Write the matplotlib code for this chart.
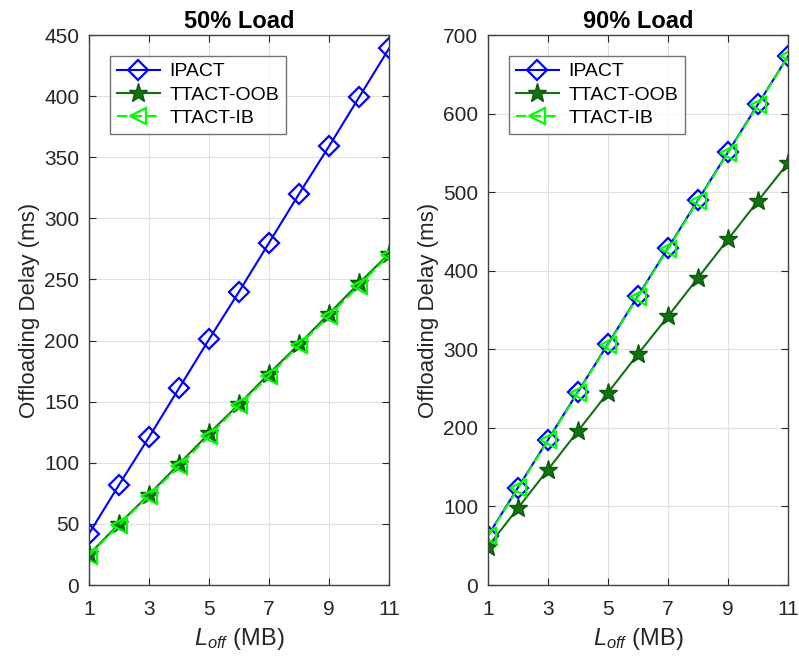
import numpy as np
import matplotlib
matplotlib.use('Agg')
import matplotlib.pyplot as plt

plt.rcParams['font.family'] = ['Liberation Sans', 'DejaVu Sans']
plt.rcParams['mathtext.fontset'] = 'custom'
plt.rcParams['mathtext.rm'] = 'Liberation Sans'
plt.rcParams['mathtext.it'] = 'Liberation Sans:italic'

# Data
L_off = [1, 2, 3, 4, 5, 6, 7, 8, 9, 10, 11]

ipact_50 = [42, 82, 121, 161, 201, 240, 280, 320, 359, 399, 439]
oob_50 = [25, 50, 74, 99, 124, 148, 173, 197, 222, 247, 271]
ib_50 = [24, 49, 73, 97, 122, 147, 171, 196, 220, 245, 270]

ipact_90 = [63, 124, 185, 246, 307, 368, 429, 490, 551, 612, 673]
oob_90 = [49, 98, 147, 196, 245, 294, 342, 391, 440, 489, 537]
ib_90 = [62, 123, 184, 245, 306, 367, 428, 489, 550, 611, 673]

titles = ['50% Load', '90% Load']
ylims = [450, 700]
ysteps = [50, 100]

fig = plt.figure(figsize=(7.99, 6.63), dpi=100)
ax1 = fig.add_axes([0.1114, 0.1176, 0.3755, 0.8296])
ax2 = fig.add_axes([0.6108, 0.1176, 0.3755, 0.8296])

sets = [(ipact_50, oob_50, ib_50), (ipact_90, oob_90, ib_90)]

for ax, (ip, oob, ib), title, ymax, ystep in zip([ax1, ax2], sets, titles, ylims, ysteps):
    ax.plot(L_off, ip, color='#0000ff', lw=1.5, marker='D', ms=10,
            mfc='none', mew=1.6, label='IPACT')
    ax.plot(L_off, oob, color='#127212', lw=1.5, marker='*', ms=14,
            mfc='#127212', mec='#0a5a0a', label='TTACT-OOB')
    ax.plot(L_off, ib, color='#00ff00', lw=1.5, ls=(0, (5, 2)), marker='<', ms=11,
            mfc='none', mew=1.6, label='TTACT-IB')
    ax.set_xlim(1, 11)
    ax.set_ylim(0, ymax)
    ax.set_xticks(np.arange(1, 12, 2))
    ax.set_yticks(np.arange(0, ymax + 1, ystep))
    ax.grid(True, color='#e0e0e0', lw=0.8)
    ax.set_axisbelow(True)
    for s in ax.spines.values():
        s.set_color('#404040')
        s.set_linewidth(1.0)
    ax.tick_params(direction='in', top=True, right=True, labelsize=15,
                   colors='#262626', length=5, pad=7)
    ax.tick_params(axis='x', pad=11)
    ax.set_title(title, fontsize=17, fontweight='bold', pad=5)
    ax.set_xlabel('$L_{off}$ (MB)', fontsize=17, color='#262626', labelpad=5)
    ax.set_ylabel('Offloading Delay (ms)', fontsize=16, color='#262626', labelpad=3)
    leg = ax.legend(loc='upper left', bbox_to_anchor=(0.07, 0.962), fontsize=14,
                    frameon=True, fancybox=False, edgecolor='#505050', borderaxespad=0,
                    handlelength=2.2, borderpad=0.35, labelspacing=0.3, handletextpad=0.5)
    leg.get_frame().set_linewidth(1.0)

fig.savefig('out.png', dpi=100)
